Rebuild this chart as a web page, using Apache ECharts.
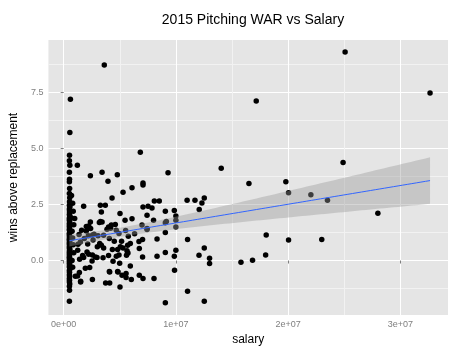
<!DOCTYPE html>
<html><head><meta charset="utf-8">
<script src="https://cdn.jsdelivr.net/npm/echarts@6/dist/echarts.min.js"></script>
<style>html,body{margin:0;padding:0;background:#fff}#c{width:467px;height:357px}</style>
</head><body><div id="c"></div>
<script>
// salary (USD) and pitching WAR
const salary = [
  3.62e6, 2.508e7, 3.265e7, 1.716e7, 0.60e6, 0.55e6, 2.49e7, 1.404e7, 6.83e6, 9.3e6,
  1.651e7, 1.98e7, 2.004e7, 2.203e7, 2.351e7, 2.80e7, 2.004e7, 2.30e7, 1.805e7, 1.80e7,
  1.683e7, 1.58e7, 1.253e7, 1.104e7, 1.30e7, 1.30e7, 1.206e7, 1.253e7, 1.104e7, 1.10e7,
  1.17e7, 1.253e7, 1.232e7, 1.208e7, 9.06e6, 9.88e6, 8.05e6, 7.07e6, 6.74e6, 6.03e6,
  5.56e6, 5.56e6, 5.02e6, 1.0e7, 9.86e6, 9.06e6, 8.32e6, 7.03e6, 5.6e6, 5.64e6,
  6.74e6, 5.29e6, 5.7e6, 5.94e6, 7.03e6, 8.32e6, 1.0e7, 9.06e6, 7.43e6, 5.52e6,
  9.15e6, 9.06e6, 1.0e7, 1.0e7, 8.01e6, 7.43e6, 9.86e6, 9.06e6, 7.52e6, 7.07e6,
  8.08e6, 8.52e6, 6.09e6, 7.07e6, 7.07e6, 5.29e6, 4.78e6, 3.95e6, 3.42e6, 2.38e6,
  1.22e6, 4.31e6, 3.71e6, 3.27e6, 1.78e6, 3.36e6, 5.02e6, 5.47e6, 0.98e6, 2.38e6,
  3.27e6, 4.0e6, 6.09e6, 7.43e6, 6.98e6, 4.25e6, 4.6e6, 3.42e6, 3.18e6, 2.23e6,
  2.02e6, 2.40e6, 1.60e6, 1.37e6, 2.02e6, 2.71e6, 4.69e6, 4.19e6, 3.86e6, 4.93e6,
  5.76e6, 6.32e6, 2.2e6, 2.58e6, 3.06e6, 3.56e6, 4.07e6, 4.51e6, 5.16e6, 1.84e6,
  1.49e6, 1.28e6, 2.14e6, 2.62e6, 3.21e6, 3.36e6, 3.0e6, 3.56e6, 5.05e6, 4.81e6,
  4.34e6, 4.69e6, 4.93e6, 5.73e6, 4.40e6, 4.99e6, 5.94e6, 4.07e6, 4.81e6, 2.08e6,
  1.25e6, 1.69e6, 2.23e6, 2.82e6, 2.56e6, 1.78e6, 1.42e6, 2.97e6, 3.51e6, 4.0e6,
  2.53e6, 1.93e6, 2.32e6, 1.40e6, 1.04e6, 1.51e6, 2.56e6, 3.74e6, 4.10e6, 4.1e6,
  4.84e6, 5.2e6, 1.24e6, 1.51e6, 7.87e6, 6.71e6,
  0.52e6, 0.51e6, 0.55e6, 0.51e6, 0.52e6, 0.51e6, 0.53e6, 0.51e6, 0.54e6, 0.52e6,
  0.51e6, 0.56e6, 0.51e6, 0.52e6, 0.53e6, 0.51e6, 0.55e6, 0.51e6, 0.52e6, 0.51e6,
  0.54e6, 0.51e6, 0.52e6, 0.51e6, 0.53e6, 0.51e6, 0.52e6, 0.55e6, 0.51e6, 0.52e6,
  0.51e6, 0.53e6, 0.51e6, 0.52e6, 0.51e6, 0.54e6, 0.51e6, 0.52e6, 0.51e6, 0.53e6,
  0.51e6, 0.52e6, 0.55e6, 0.51e6, 0.52e6, 0.51e6, 0.53e6, 0.51e6, 0.52e6, 0.51e6,
  0.54e6, 0.51e6, 0.52e6, 0.51e6, 0.53e6, 0.51e6, 0.52e6, 0.55e6, 0.51e6, 0.52e6,
  0.51e6, 0.53e6, 0.51e6, 0.52e6, 0.51e6, 0.54e6, 0.51e6, 0.52e6, 0.51e6,
  0.80e6, 0.85e6, 0.90e6, 0.75e6, 0.80e6, 0.85e6, 0.90e6, 0.75e6, 0.80e6, 0.70e6, 0.70e6
];
const war = [
  8.72, 9.30, 7.47, 7.11, 7.19, 5.71, 4.37, 4.11, 4.83, 3.91,
  3.44, 3.51, 3.02, 2.93, 2.69, 2.11, 0.91, 0.94, 1.14, 0.25,
  0.01, -0.08, -1.82, -1.37, 0.10, -0.13, 0.24, 0.56, 0.94, 2.69,
  2.69, 2.79, 2.57, 2.28, -1.88, -0.43, -0.80, -0.80, -0.66, -0.85,
  -0.58, -0.76, -1.18, 0.46, 0.19, 0.36, 0.19, 0.16, 0.24, 0.43,
  0.54, 0.56, 0.68, 0.76, 0.94, 0.96, 1.50, 1.25, 1.38, 1.34,
  1.74, 1.68, 1.80, 1.98, 1.80, 2.02, 2.23, 2.20, 2.42, 2.39,
  2.65, 2.65, 3.24, 3.46, 3.37, 3.05, 3.82, 3.54, 3.94, 3.78,
  4.25, 2.79, 2.47, 2.47, 2.42, 2.16, 2.10, 1.80, 1.87, 1.72,
  1.74, 1.50, 1.86, 1.43, 1.58, 1.58, 1.61, 1.72, 1.70, 1.54,
  1.52, 1.43, 1.35, 1.16, 1.32, 1.17, 1.35, 1.44, 1.40, 1.21,
  1.08, 1.19, 1.10, 1.14, 1.10, 1.13, 0.98, 0.86, 0.86, 0.98,
  0.83, 0.73, 0.74, 0.91, 0.76, 0.68, 0.61, 0.56, 0.61, 0.49,
  0.49, 0.19, 0.25, 0.34, -0.03, -0.12, -0.25, -0.49, -0.49, 0.38,
  0.46, 0.22, 0.28, 0.16, 0.25, 0.13, 0.06, 0.13, 0.12, 0.22,
  -0.02, -0.34, -0.31, -0.54, -0.70, -0.92, -0.85, -1.00, -1.00, -0.51,
  -0.51, -0.66, -0.69, -0.96, 2.34, 0.85,
  4.70, 4.45, 4.25, 3.94, 3.62, 3.51, 3.21, 2.99, 2.80, 2.62,
  2.47, 2.40, 2.30, 2.22, 2.15, 2.05, 1.98, 1.90, 1.85, 1.78,
  1.70, 1.65, 1.58, 1.52, 1.46, 1.40, 1.35, 1.28, 1.22, 1.18,
  1.12, 1.06, 1.00, 0.95, 0.90, 0.85, 0.80, 0.75, 0.70, 0.64,
  0.58, 0.52, 0.48, 0.42, 0.36, 0.30, 0.26, 0.20, 0.15, 0.10,
  0.05, 0.00, -0.05, -0.12, -0.18, -0.25, -0.30, -0.38, -0.45, -0.52,
  -0.63, -0.70, -0.80, -0.88, -0.96, -1.05, -1.15, -1.33, -1.82,
  2.55, 2.20, 1.60, 1.30, 1.00, 0.70, 0.35, 0.00, -0.30, 1.90, 2.90
];
const xTicks = [0, 1e7, 2e7, 3e7];
const xMinor = [5e6, 1.5e7, 2.5e7];
const yTicks = [0, 2.5, 5, 7.5];
const yMinor = [-1.25, 1.25, 3.75, 6.25, 8.75];

// linear model fit with 95% confidence band (as geom_smooth(method = "lm"))
const n = salary.length;
const mx = salary.reduce((a, b) => a + b, 0) / n;
const my = war.reduce((a, b) => a + b, 0) / n;
let sxx = 0, sxy = 0;
for (let i = 0; i < n; i++) { sxx += (salary[i] - mx) ** 2; sxy += (salary[i] - mx) * (war[i] - my); }
const slope = sxy / sxx, icpt = my - slope * mx;
let sse = 0;
for (let i = 0; i < n; i++) sse += (war[i] - icpt - slope * salary[i]) ** 2;
const s = Math.sqrt(sse / (n - 2)), tq = 1.968;
const xlo = Math.min(...salary), xhi = Math.max(...salary);
const fitLine = [], upper = [], lower = [];
for (let k = 0; k < 80; k++) {
  const x = xlo + (xhi - xlo) * k / 79;
  const yh = icpt + slope * x;
  const se = s * Math.sqrt(1 / n + (x - mx) ** 2 / sxx);
  fitLine.push([x, yh]); upper.push([x, yh + tq * se]); lower.push([x, yh - tq * se]);
}

function sci(v) {
  if (v === 0) return '0e+00';
  const e = Math.floor(Math.log10(Math.abs(v)) + 1e-9);
  const m = Math.round(v / Math.pow(10, e));
  return m + 'e+' + String(e).padStart(2, '0');
}
const FONT = 'Liberation Sans';
const XMIN = -1.36e6, XMAX = 3.425e7, YMIN = -2.43, YMAX = 9.835;

const chart = echarts.init(document.getElementById('c'), null, { renderer: 'canvas' });
chart.setOption({
  animation: false,
  backgroundColor: '#ffffff',
  textStyle: { fontFamily: FONT },
  title: {
    text: '2015 Pitching WAR vs Salary', left: 248, top: 8, textAlign: 'center',
    textStyle: { fontFamily: FONT, fontSize: 14, fontWeight: 'normal', color: '#000' }
  },
  grid: { left: 48, right: 19, top: 40, bottom: 42, show: true, backgroundColor: '#E5E5E5', borderWidth: 0 },
  xAxis: [{
    type: 'value', min: XMIN, max: XMAX, position: 'bottom',
    axisLine: { show: false },
    axisTick: { show: true, customValues: xTicks, length: 3, lineStyle: { color: '#7f7f7f' } },
    axisLabel: { customValues: xTicks, formatter: sci, color: '#7f7f7f', fontSize: 9, margin: 5, fontFamily: FONT },
    splitLine: { show: true, lineStyle: { color: '#ffffff', width: 1 } },
    name: 'salary', nameLocation: 'middle', nameGap: 19,
    nameTextStyle: { fontSize: 12, color: '#000', fontFamily: FONT }
  }, {
    type: 'value', min: XMIN, max: XMAX, position: 'bottom',
    axisLine: { show: false }, axisLabel: { show: false },
    axisTick: { show: false, customValues: xMinor },
    splitLine: { show: true, lineStyle: { color: '#F2F2F2', width: 1 } }
  }],
  yAxis: [{
    type: 'value', min: YMIN, max: YMAX,
    axisLine: { show: false },
    axisTick: { show: true, customValues: yTicks, length: 3, lineStyle: { color: '#7f7f7f' } },
    axisLabel: { customValues: yTicks, formatter: v => v.toFixed(1), color: '#7f7f7f', fontSize: 9, margin: 5, fontFamily: FONT },
    splitLine: { show: true, lineStyle: { color: '#ffffff', width: 1 } },
    name: 'wins above replacement', nameLocation: 'middle', nameGap: 27,
    nameTextStyle: { fontSize: 12, color: '#000', fontFamily: FONT }
  }, {
    type: 'value', min: YMIN, max: YMAX,
    axisLine: { show: false }, axisLabel: { show: false },
    axisTick: { show: false, customValues: yMinor },
    splitLine: { show: true, lineStyle: { color: '#F2F2F2', width: 1 } }
  }],
  series: [{
    type: 'scatter', xAxisIndex: 0, yAxisIndex: 0, z: 2,
    data: salary.map((x, i) => [x, war[i]]),
    symbol: 'circle', symbolSize: 5.5,
    itemStyle: { color: '#000000', opacity: 1 }, silent: true
  }, {
    type: 'custom', xAxisIndex: 0, yAxisIndex: 0, z: 3, silent: true,
    data: [[fitLine[0][0], fitLine[0][1]]],
    renderItem: function (params, api) {
      const pts = upper.map(p => api.coord(p)).concat(lower.slice().reverse().map(p => api.coord(p)));
      return { type: 'polygon', shape: { points: pts }, style: { fill: 'rgba(153,153,153,0.4)' } };
    }
  }, {
    type: 'line', xAxisIndex: 0, yAxisIndex: 0, z: 4, silent: true,
    data: fitLine, showSymbol: false, symbol: 'none',
    lineStyle: { color: '#3366FF', width: 1 }
  }]
});
</script>
</body></html>
